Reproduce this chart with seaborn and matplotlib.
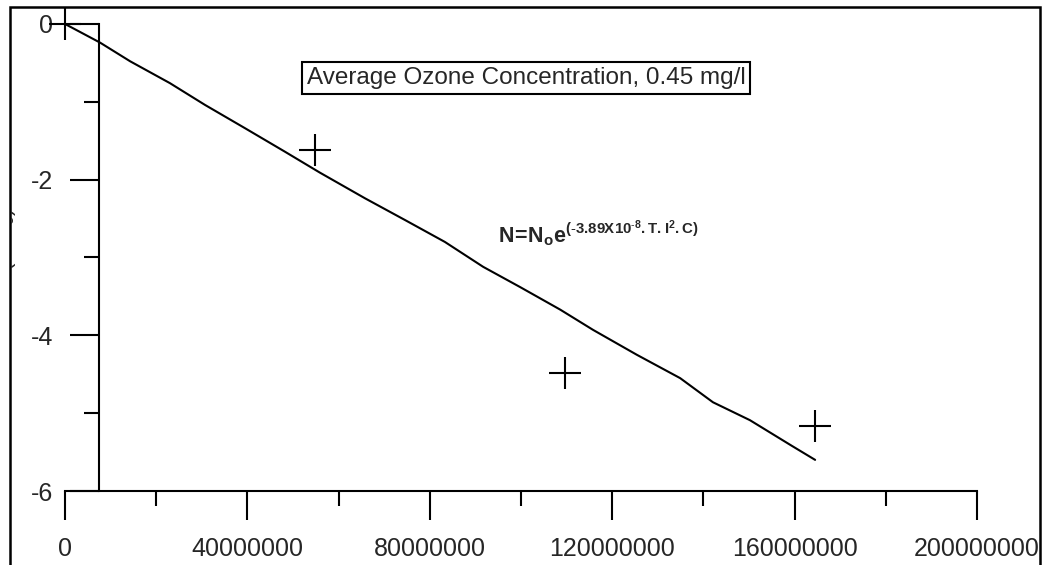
import seaborn as sns
import matplotlib.pyplot as plt
from matplotlib.patches import Rectangle
from matplotlib.transforms import Bbox
from matplotlib.ticker import MultipleLocator

# fitted curve
fit_x = [0, 7.7e6, 14.3e6, 23.0e6, 30.7e6, 39.5e6, 48.2e6, 55.9e6, 65.8e6, 74.6e6,
         83.3e6, 91.7e6, 99.8e6, 108.6e6, 115.8e6, 125.4e6, 134.9e6, 142.1e6,
         150.2e6, 159.4e6, 164.5e6]
fit_y = [0, -0.24, -0.48, -0.76, -1.04, -1.34, -1.64, -1.91, -2.24, -2.52,
         -2.80, -3.12, -3.38, -3.67, -3.93, -4.25, -4.55, -4.86,
         -5.09, -5.42, -5.60]

# measured points
obs_x = [0, 54.8e6, 109.6e6, 164.5e6]
obs_y = [0, -1.62, -4.49, -5.16]

x_ticks = [0, 40000000, 80000000, 120000000, 160000000, 200000000]
y_ticks = [0, -2, -4, -6]

sns.set_style('ticks')
plt.rcParams['font.family'] = ['Liberation Sans', 'DejaVu Sans']
plt.rcParams['mathtext.fontset'] = 'custom'
plt.rcParams['mathtext.rm'] = 'Liberation Sans'
plt.rcParams['mathtext.bf'] = 'Liberation Sans:bold'

fig = plt.figure(figsize=(10.47, 5.65), dpi=100)
ax = fig.add_axes([65 / 1047, 74 / 565, 912 / 1047, 486.5 / 565])

sns.lineplot(x=fit_x, y=fit_y, ax=ax, color='black', linewidth=1.5)
sns.scatterplot(x=obs_x, y=obs_y, ax=ax, marker='+', s=560, color='black',
                linewidth=1.5, clip_on=False, zorder=5)

ax.set_xlim(0, 200e6)
ax.set_ylim(-6, 0.25)

ax.spines['top'].set_visible(False)
ax.spines['right'].set_visible(False)
ax.spines['left'].set_position(('data', 7.46e6))
ax.spines['left'].set_bounds(-6, 0)
ax.spines['bottom'].set_bounds(0, 200e6)
for s in ['left', 'bottom']:
    ax.spines[s].set_linewidth(1.5)
    ax.spines[s].set_color('black')

ax.set_xticks(x_ticks)
ax.set_xticklabels([str(v) for v in x_ticks])
ax.set_yticks(y_ticks)
ax.set_yticklabels([str(v) for v in y_ticks])
ax.xaxis.set_minor_locator(MultipleLocator(20e6))
ax.yaxis.set_minor_locator(MultipleLocator(1))
ax.tick_params(which='major', length=21, width=1.5, color='black', labelsize=18,
               pad=12, direction='out')
ax.tick_params(which='minor', length=10.5, width=1.5, color='black', direction='out')
ax.set_xlabel('')
ax.set_ylabel('')

fig.text(526 / 1047, 1 - 78 / 565, 'Average Ozone Concentration, 0.45 mg/l',
         fontsize=17.5, ha='center', va='center',
         bbox=dict(boxstyle='square,pad=0.2', facecolor='white',
                   edgecolor='black', linewidth=1.5))

fig.text(498 / 1047, 1 - 243 / 565,
         r'$\mathbf{N\!=\!N_{o}e^{(\text{-}3.89X10^{\text{-}8}.T.I^{2}.C)}}$',
         fontsize=15.5, ha='left', va='baseline')

# y label, mostly hidden behind the frame line as in the original
ylab = fig.text(18 / 1047, 1 - 248 / 565, r'ln(N/N$_\mathrm{o}$)', rotation=90,
                fontsize=16, ha='right', va='center')
ylab.set_clip_box(Bbox.from_extents(11, 0, 1047, 565))
ylab.set_clip_on(True)

fig.patches.append(Rectangle((10 / 1047, -0.05), 1030 / 1047, 1.05 - 7 / 565,
                             transform=fig.transFigure, fill=False,
                             edgecolor='black', linewidth=1.8))

fig.savefig('out.png', dpi=100)
